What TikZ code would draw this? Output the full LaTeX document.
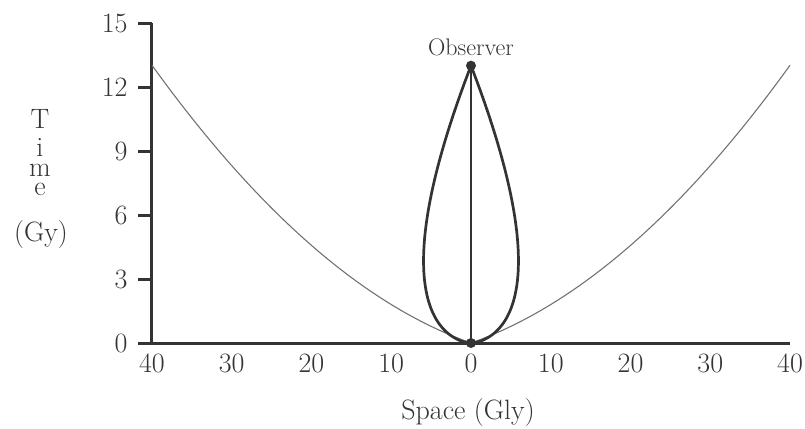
\documentclass[tikz,border=0pt]{standalone}
\usepackage{fontspec}
\begin{document}
\begin{tikzpicture}[x=7.975pt, y=21.333pt,
  axisline/.style={draw=black!80, line width=3pt},
  tickline/.style={draw=black!80, line width=3pt},
  ticklab/.style={font=\fontsize{28}{30}\selectfont, text=black!80, inner sep=0pt},
  cone/.style={draw=black!80, line width=2.7pt, line join=round},
  horizon/.style={draw=black!55, line width=1.1pt},
  dot/.style={circle, fill=black!80, inner sep=0pt, minimum size=10pt},
  lab/.style={font=\fontsize{28}{30}\selectfont, text=black!80, inner sep=0pt}]
\useasboundingbox (-471pt,-85pt) rectangle (334pt,343pt);
% axes
\coordinate (O) at (-40,0);
\coordinate (Xend) at (40,0);
\coordinate (Yend) at (-40,15);
\draw[axisline] ([xshift=-14.3pt]O) -- (Xend);
\draw[axisline] (O) -- (Yend);
\foreach \v in {3,6,9,12,15}{
  \draw[tickline] (-40,\v) -- ++(-14.3pt,0);
}
\foreach \v in {0,3,6,9,12,15}{
  \node[ticklab, anchor=east] (yl\v) at ([xshift=-24.3pt]-40,\v) {\v};
}
\foreach \p/\l in {-40/40,-30/30,-20/20,-10/10,0/0,10/10,20/20,30/30,40/40}{
  \node[ticklab, anchor=north] (xl\p) at ([yshift=-10.5pt]\p,0) {\l};
}
% horizon curve
\draw[horizon] plot[domain=-40:40, samples=161, smooth] (\x,{0.132*abs(\x)+0.00483*\x*\x});
% light cone teardrop
\draw[cone] plot[domain=0:13, samples=200, smooth, variable=\t]
  ({-3.09*pow(\t,2/3)*(pow(13,1/3)-pow(\t,1/3))},\t);
\draw[cone] plot[domain=0:13, samples=200, smooth, variable=\t]
  ({3.09*pow(\t,2/3)*(pow(13,1/3)-pow(\t,1/3))},\t);
% worldline
\node[dot] (bot) at (0,0) {};
\node[dot] (obs) at (0,13) {};
\draw[cone] (bot.center) -- (obs.center);
\node[font=\fontsize{24}{26}\selectfont, text=black!80, inner sep=0pt, anchor=base] (obslab) at (0pt,287pt) {Observer};
% axis labels
\node[lab, anchor=base] (space) at (-3pt,-76pt) {Space (Gly)};
\node[lab, anchor=base] (timelab) at (-431pt,147.3pt) {\shortstack{T\\[7pt]i\\[5pt]m\\[3.7pt]e}};
\node[lab, anchor=base] (gy) at (-430pt,101.3pt) {(Gy)};
\end{tikzpicture}
\end{document}
